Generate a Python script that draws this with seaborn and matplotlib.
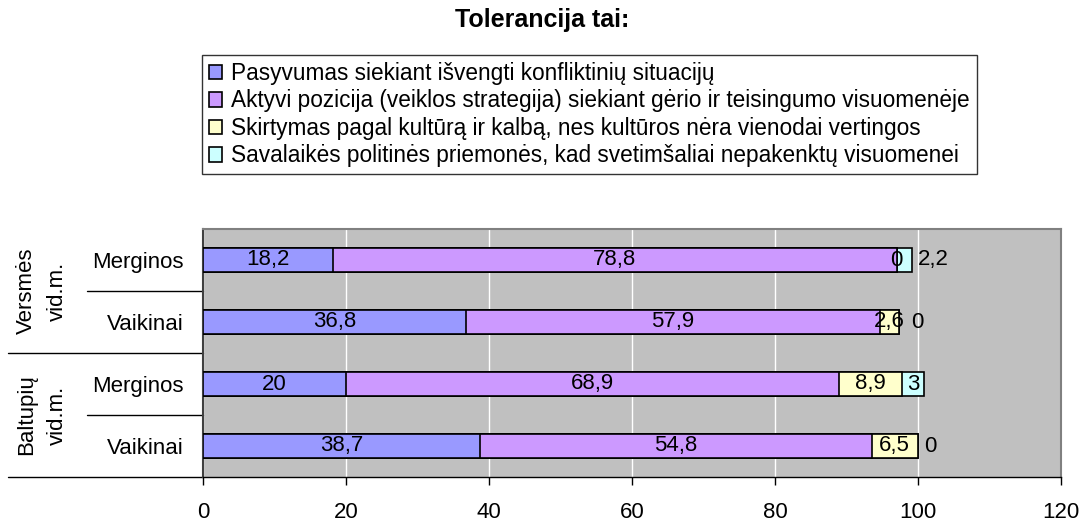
import matplotlib
matplotlib.use("Agg")
import matplotlib.pyplot as plt
import matplotlib.transforms as mtransforms
import seaborn as sns
import pandas as pd
import numpy as np

# ---- data ----
groups = ["Versmės\nvid.m.", "Baltupių\nvid.m."]
subgroups = ["Merginos", "Vaikinai"]
rows = ["Versmės Merginos", "Versmės Vaikinai", "Baltupių Merginos", "Baltupių Vaikinai"]
row_labels = ["Merginos", "Vaikinai", "Merginos", "Vaikinai"]
series = [
    "Pasyvumas siekiant išvengti konfliktinių situacijų",
    "Aktyvi pozicija (veiklos strategija) siekiant gėrio ir teisingumo visuomenėje",
    "Skirtymas pagal kultūrą ir kalbą, nes kultūros nėra vienodai vertingos",
    "Savalaikės politinės priemonės, kad svetimšaliai nepakenktų visuomenei",
]
pasyvumas = [18.2, 36.8, 20, 38.7]
aktyvi = [78.8, 57.9, 68.9, 54.8]
skirtymas = [0, 2.6, 8.9, 6.5]
savalaikes = [2.2, 0, 3, 0]
values = [pasyvumas, aktyvi, skirtymas, savalaikes]
colors = ["#9999FF", "#CC99FF", "#FFFFCC", "#CCFFFF"]
title = "Tolerancija tai:"
xticks = [0, 20, 40, 60, 80, 100, 120]

sns.set_theme(style="white")
plt.rcParams["font.family"] = ["Liberation Sans", "DejaVu Sans"]
plt.rcParams["text.color"] = "black"
plt.rcParams["xtick.color"] = "black"
plt.rcParams["ytick.color"] = "black"
plt.rcParams["xtick.labelcolor"] = "black"
plt.rcParams["ytick.labelcolor"] = "black"
FS = 16

fig = plt.figure(figsize=(10.85, 5.23), dpi=100)
W, H = 1085, 523
ax = fig.add_axes([203 / W, 1 - 477 / H, (1061 - 203) / W, (477 - 229) / H])
ax.set_facecolor("#C0C0C0")

vals = np.array(values)
cum = np.cumsum(vals, axis=0)

# draw cumulative bars from longest to shortest -> stacked look
for i in range(len(series) - 1, -1, -1):
    df = pd.DataFrame({"row": rows, "val": cum[i]})
    sns.barplot(data=df, x="val", y="row", order=rows, orient="h", color=colors[i],
                saturation=1, width=0.39, edgecolor="black", linewidth=1.2, ax=ax,
                label=series[i], zorder=3)
if ax.get_legend() is not None:
    ax.get_legend().remove()

ax.set_xlim(0, 120)
ax.set_ylim(3.5, -0.5)
ax.set_xticks(xticks)
ax.set_xticklabels([str(t) for t in xticks], fontsize=FS)
ax.grid(axis="x", color="white", linewidth=1, zorder=0)
ax.set_axisbelow(True)
ax.set_xlabel("")
ax.set_ylabel("")
ax.set_yticks(range(len(rows)))
ax.set_yticklabels(row_labels, fontsize=FS)
ax.tick_params(axis="y", length=0, pad=14)
ax.tick_params(axis="x", length=6, width=1, color="black", direction="out", pad=12, bottom=True)

for s in ["top", "right"]:
    ax.spines[s].set_color("#808080")
    ax.spines[s].set_linewidth(1.5)
ax.spines["left"].set_color("#404040")
ax.spines["left"].set_linewidth(1.5)
ax.spines["bottom"].set_color("black")
ax.spines["bottom"].set_linewidth(1)

# data labels
def fmt(v):
    return ("%g" % v).replace(".", ",")

px = 120 / (1061 - 203)
fig.canvas.draw()
renderer = fig.canvas.get_renderer()
inv = ax.transData.inverted()
for r in range(len(rows)):
    prev_txt = None
    for i in range(len(series)):
        v = vals[i, r]
        start = cum[i, r] - v
        if i == len(series) - 1 and (v == 0 or vals[i - 1, r] == 0):
            xpos = cum[i, r] + 6 * px
            if prev_txt is not None:
                bb = prev_txt.get_window_extent(renderer)
                xr = inv.transform((bb.x1, 0))[0]
                xpos = max(xpos, xr + 6 * px)
            ax.text(xpos, r, fmt(v), ha="left", va="center", fontsize=FS, zorder=5)
        else:
            prev_txt = ax.text(start + v / 2, r, fmt(v), ha="center", va="center",
                               fontsize=FS, zorder=5)

# group labels and separator lines
trans = mtransforms.blended_transform_factory(fig.transFigure, ax.transData)
for g, name in enumerate(groups):
    ax.text(42 / W, 2 * g + 0.5, name, rotation=90, ha="center", va="center",
            fontsize=FS, transform=trans, multialignment="center", linespacing=1.65)
for y, x0 in [(0.5, 87), (1.5, 8), (2.5, 87), (3.5, 8)]:
    ax.plot([x0 / W, 203 / W], [y, y], color="black", linewidth=1, transform=trans, clip_on=False)

# legend
handles, labels = ax.get_legend_handles_labels()
order = [labels.index(s) for s in series]
leg = fig.legend([handles[k] for k in order], [labels[k] for k in order],
                 loc="upper left", bbox_to_anchor=(202 / W, 1 - 55 / H),
                 fontsize=16.3, frameon=True, fancybox=False, shadow=False,
                 handlelength=0.6, handleheight=0.6, handletextpad=0.4,
                 labelspacing=0.2, borderpad=0.3, borderaxespad=0)
leg.get_frame().set_edgecolor("black")
leg.get_frame().set_linewidth(1)

fig.text(0.5, 1 - 20 / H, title, ha="center", va="center", fontsize=18, fontweight="bold")

fig.savefig("out.png", dpi=100)
